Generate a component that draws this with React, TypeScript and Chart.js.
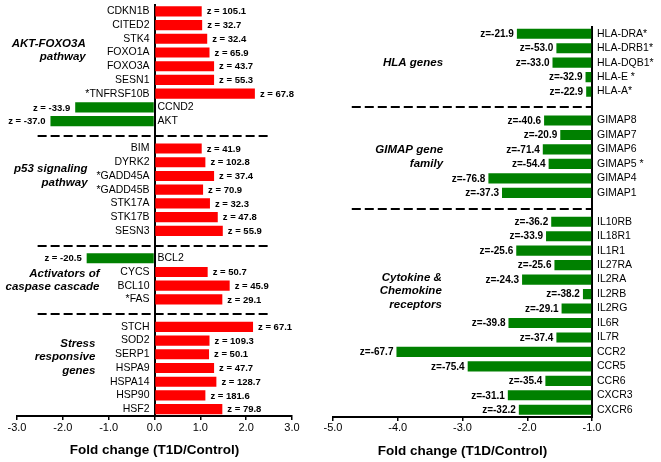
import React, { useEffect, useRef } from 'react';
import { Chart, registerables } from 'chart.js';
Chart.register(...registerables);

// ---------- data ----------
const leftGenes = ['CDKN1B', 'CITED2', 'STK4', 'FOXO1A', 'FOXO3A', 'SESN1', '*TNFRSF10B', 'CCND2', 'AKT', '',
  'BIM', 'DYRK2', '*GADD45A', '*GADD45B', 'STK17A', 'STK17B', 'SESN3', '',
  'BCL2', 'CYCS', 'BCL10', '*FAS', '',
  'STCH', 'SOD2', 'SERP1', 'HSPA9', 'HSPA14', 'HSP90', 'HSF2'];
const leftFold = [1.03, 1.04, 1.15, 1.20, 1.30, 1.30, 2.19, -1.73, -2.27, null,
  1.03, 1.11, 1.30, 1.06, 1.21, 1.38, 1.49, null,
  -1.48, 1.16, 1.64, 1.48, null,
  2.15, 1.20, 1.19, 1.30, 1.35, 1.11, 1.48];
const leftZ = [105.1, 32.7, 32.4, 65.9, 43.7, 55.3, 67.8, -33.9, -37.0, null,
  41.9, 102.8, 37.4, 70.9, 32.3, 47.8, 55.9, null,
  -20.5, 50.7, 45.9, 29.1, null,
  67.1, 109.3, 50.1, 47.7, 128.7, 181.6, 79.8];

const rightGenes = ['HLA-DRA*', 'HLA-DRB1*', 'HLA-DQB1*', 'HLA-E *', 'HLA-A*', '',
  'GIMAP8', 'GIMAP7', 'GIMAP6', 'GIMAP5 *', 'GIMAP4', 'GIMAP1', '',
  'IL10RB', 'IL18R1', 'IL1R1', 'IL27RA', 'IL2RA', 'IL2RB', 'IL2RG', 'IL6R', 'IL7R',
  'CCR2', 'CCR5', 'CCR6', 'CXCR3', 'CXCR6'];
const rightFold = [-2.16, -1.55, -1.61, -1.10, -1.09, null,
  -1.74, -1.49, -1.76, -1.67, -2.60, -2.39, null,
  -1.63, -1.71, -2.17, -1.58, -2.08, -1.14, -1.47, -2.29, -1.55,
  -4.02, -2.92, -1.72, -2.30, -2.13];
const rightZ = [-21.9, -53.0, -33.0, -32.9, -22.9, null,
  -40.6, -20.9, -71.4, -54.4, -76.8, -37.3, null,
  -36.2, -33.9, -25.6, -25.6, -24.3, -38.2, -29.1, -39.8, -37.4,
  -67.7, -75.4, -35.4, -31.1, -32.2];

const leftGroupText = [['AKT-FOXO3A', 'pathway'], ['p53 signaling', 'pathway'], ['Activators of', 'caspase cascade'], ['Stress', 'responsive', 'genes']];
const rightGroupText = [['HLA genes'], ['GIMAP gene', 'family'], ['Cytokine &', 'Chemokine', 'receptors']];

const leftTicks = [-3, -2, -1, 0, 1, 2, 3];
const rightTicks = [-5, -4, -3, -2, -1];
const axisTitle = 'Fold change (T1D/Control)';

// ---------- layout of annotations (row index / axis value anchors) ----------
const leftGroupPos = [{ row: 2.84, x: -1.5 }, { row: 12.0, x: -1.46 }, { row: 19.6, x: -1.2 }, { row: 25.2, x: -1.29 }];
const rightGroupPos = [{ row: 2.0, x: -3.3 }, { row: 8.5, x: -3.3 }, { row: 17.8, x: -3.32 }];

const RED = 'rgb(255,0,0)';
const GREEN = 'rgb(0,128,0)';
const FAMILY = "'Liberation Sans', Arial, sans-serif";

type Cfg = {
  genes: string[];
  z: (number | null)[];
  zero: number;
  side: 'left' | 'right';
  dash: [number, number];
  groups: string[][];
  groupPos: { row: number; x: number }[];
};

function makeAnnot(cfg: Cfg) {
  return {
    id: 'annot',
    beforeDatasetsDraw(chart: any) {
      const ctx = chart.ctx;
      const xs = chart.scales.x;
      const ys = chart.scales.y;
      ctx.save();
      ctx.strokeStyle = '#000';
      ctx.lineWidth = 2;
      ctx.setLineDash([9, 4]);
      cfg.genes.forEach((g, i) => {
        if (g !== '') return;
        const y = Math.round(ys.getPixelForValue(i + 0.1));
        ctx.beginPath();
        ctx.moveTo(xs.getPixelForValue(cfg.dash[0]), y);
        ctx.lineTo(xs.getPixelForValue(cfg.dash[1]), y);
        ctx.stroke();
      });
      ctx.restore();
    },
    afterDatasetsDraw(chart: any) {
      const ctx = chart.ctx;
      const xs = chart.scales.x;
      const ys = chart.scales.y;
      const meta = chart.getDatasetMeta(0);
      const x0 = xs.getPixelForValue(cfg.zero);
      ctx.save();
      ctx.fillStyle = '#000';
      ctx.textBaseline = 'middle';
      cfg.genes.forEach((g, i) => {
        if (g === '') return;
        const bar = meta.data[i];
        const y = ys.getPixelForValue(i);
        const val = chart.data.datasets[0].data[i] as number;
        // gene label
        ctx.font = `10.5px ${FAMILY}`;
        if (cfg.side === 'left') {
          if (val >= 0) { ctx.textAlign = 'right'; ctx.fillText(g, x0 - 5, y); }
          else { ctx.textAlign = 'left'; ctx.fillText(g, x0 + 3, y); }
        } else {
          ctx.textAlign = 'left';
          ctx.fillText(g, x0 + 5, y);
        }
        // z label
        const zv = cfg.z[i];
        if (zv == null || !bar) return;
        if (cfg.side === 'left') {
          ctx.font = `bold 9.5px ${FAMILY}`;
          const t = 'z = ' + zv.toFixed(1);
          if (val >= 0) { ctx.textAlign = 'left'; ctx.fillText(t, bar.x + 5, y + 0.5); }
          else { ctx.textAlign = 'right'; ctx.fillText(t, bar.x - 5, y + 0.5); }
        } else {
          ctx.font = `bold 10px ${FAMILY}`;
          const t = 'z=' + zv.toFixed(1);
          ctx.textAlign = 'right';
          ctx.fillText(t, bar.x - 3, y + 0.5);
        }
      });
      // group labels
      ctx.font = `italic bold 11.5px ${FAMILY}`;
      ctx.textAlign = 'right';
      cfg.groups.forEach((lines, gi) => {
        const p = cfg.groupPos[gi];
        const cy = ys.getPixelForValue(p.row);
        const gx = xs.getPixelForValue(p.x);
        lines.forEach((ln, k) => {
          ctx.fillText(ln, gx, cy + (k - (lines.length - 1) / 2) * 13.6);
        });
      });
      ctx.restore();
    },
  };
}

function buildChart(canvas: HTMLCanvasElement, side: 'left' | 'right') {
  const isLeft = side === 'left';
  const genes = isLeft ? leftGenes : rightGenes;
  const fold = isLeft ? leftFold : rightFold;
  const ticks = isLeft ? leftTicks : rightTicks;
  const zero = isLeft ? 0 : -1;
  return new Chart(canvas, {
    type: 'bar',
    data: {
      labels: genes,
      datasets: [{
        data: fold as any,
        base: zero,
        backgroundColor: fold.map((v) => ((v ?? 0) > 0 ? RED : GREEN)),
        borderWidth: 0,
        barPercentage: isLeft ? 0.74 : 0.7,
        categoryPercentage: 1,
      } as any],
    },
    options: {
      indexAxis: 'y',
      responsive: false,
      animation: false,
      events: [],
      layout: {
        padding: isLeft
          ? { left: 17, right: 38, top: 4.5, bottom: 0 }
          : { left: 23, right: 69, top: 26.5, bottom: 0 },
      },
      plugins: { legend: { display: false }, tooltip: { enabled: false } },
      scales: {
        x: {
          type: 'linear',
          min: ticks[0],
          max: ticks[ticks.length - 1],
          afterBuildTicks: (s: any) => { s.ticks = ticks.map((v) => ({ value: v })); },
          afterFit: (s: any) => { s.height = isLeft ? 46 : 45; },
          ticks: {
            color: '#000',
            padding: isLeft ? 1 : 0,
            font: { family: FAMILY, size: 11 },
            callback: (v: any) => Number(v).toFixed(1),
            autoSkip: false,
            maxRotation: 0,
          },
          grid: { display: true, drawOnChartArea: false, drawTicks: true, tickLength: 4, color: '#000', lineWidth: 1.5 },
          border: { display: true, color: '#000', width: 2 },
          title: {
            display: true,
            text: axisTitle,
            color: '#000',
            font: { family: FAMILY, size: 13.5, weight: 'bold' },
            padding: { top: 0, bottom: isLeft ? 4 : 2.5 },
          },
        },
        y: {
          type: 'category',
          position: { x: zero } as any,
          ticks: { display: false },
          grid: { display: false },
          border: { display: true, color: '#000', width: 2 },
        },
      },
    } as any,
    plugins: [makeAnnot({
      genes,
      z: isLeft ? leftZ : rightZ,
      zero,
      side,
      dash: isLeft ? [-2.55, 2.55] : [-4.71, -1],
      groups: isLeft ? leftGroupText : rightGroupText,
      groupPos: isLeft ? leftGroupPos : rightGroupPos,
    })],
  });
}

export default function App() {
  const leftRef = useRef<HTMLCanvasElement>(null);
  const rightRef = useRef<HTMLCanvasElement>(null);
  useEffect(() => {
    const a = buildChart(leftRef.current!, 'left');
    const b = buildChart(rightRef.current!, 'right');
    return () => { a.destroy(); b.destroy(); };
  }, []);
  return (
    <div style={{ position: 'absolute', left: 0, top: 0, width: 661, height: 462, background: '#fff', overflow: 'hidden' }}>
      <canvas ref={leftRef} width={330} height={462} style={{ position: 'absolute', left: 0, top: 0, width: 330, height: 462 }} />
      <canvas ref={rightRef} width={351} height={462} style={{ position: 'absolute', left: 310, top: 0, width: 351, height: 462 }} />
    </div>
  );
}
